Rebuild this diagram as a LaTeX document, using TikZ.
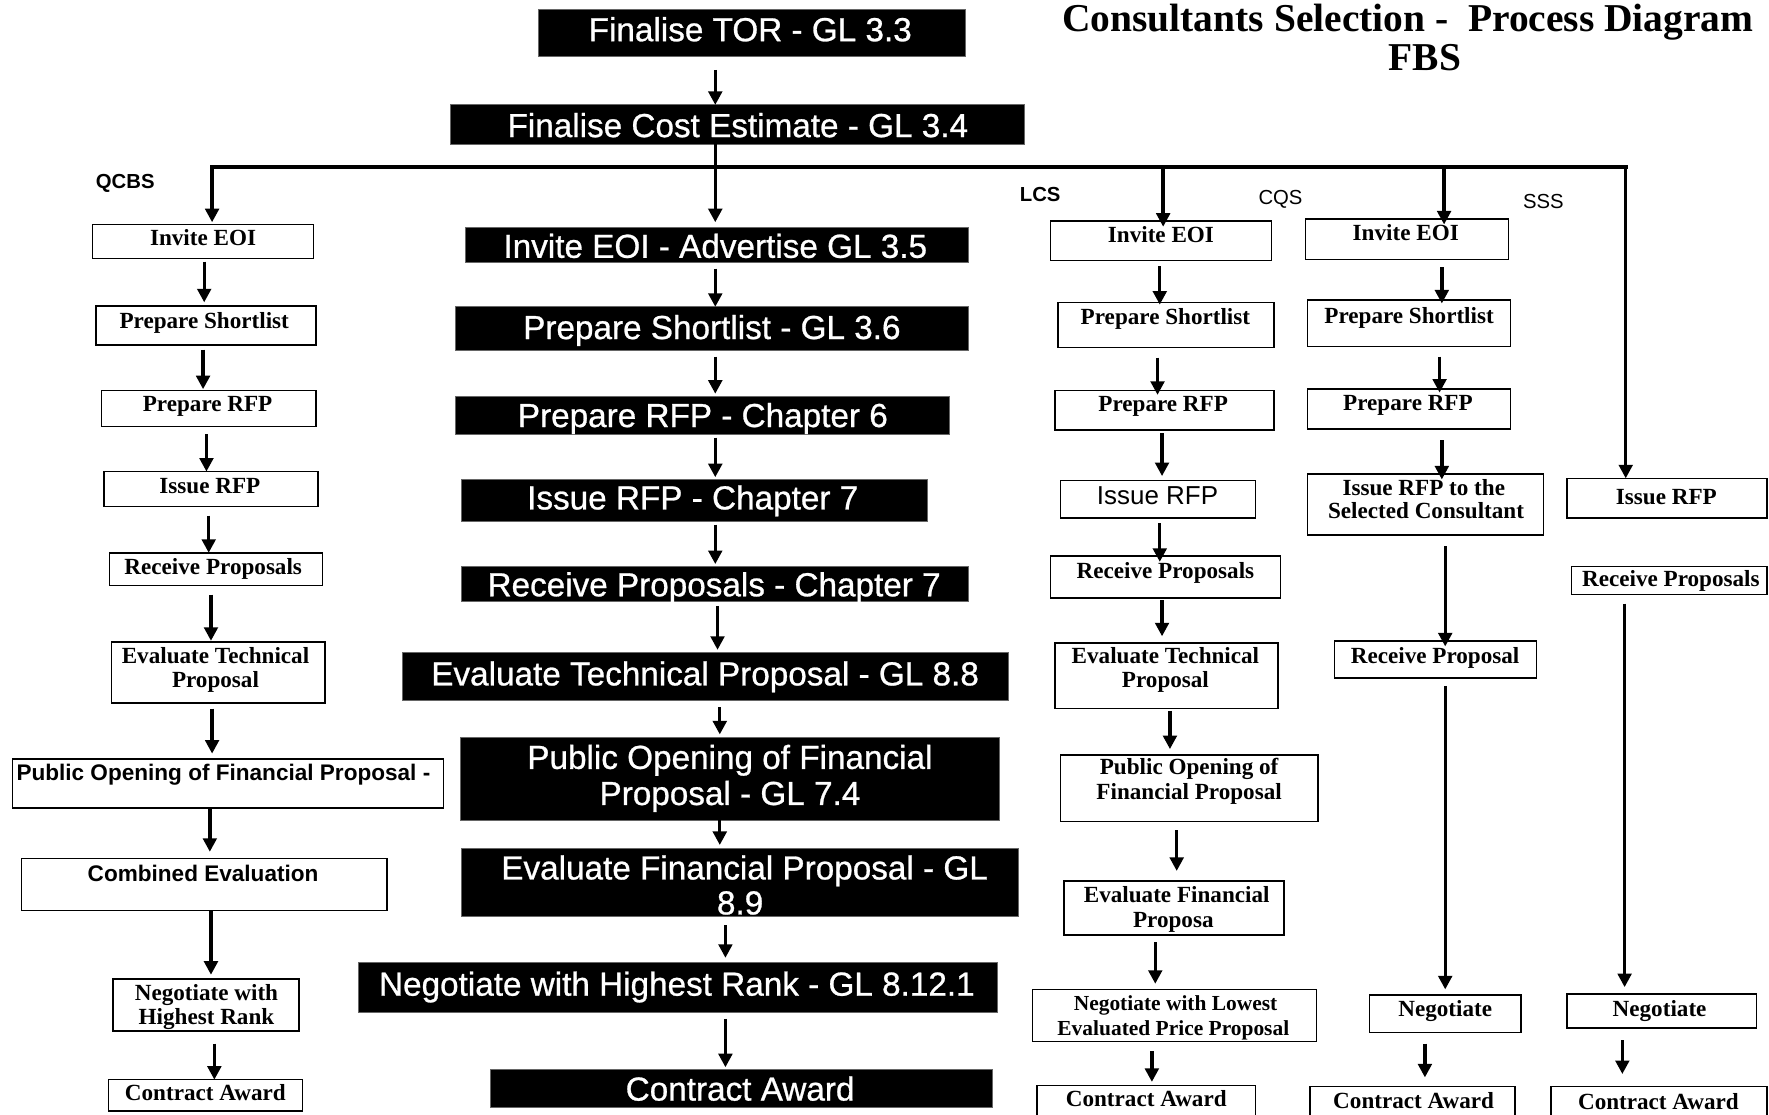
\documentclass[tikz,border=0pt]{standalone}
\usepackage{fontspec}
\setmainfont{Liberation Serif}
\setsansfont{Liberation Sans}
\newfontfamily\censans[FakeBold=0.8]{Liberation Sans}
\usetikzlibrary{arrows.meta,calc}

\tikzset{
  blackbox/.style={draw=black!60, fill=black, line width=0.8pt, inner sep=0pt, outer sep=0pt},
  whitebox/.style={draw=black, fill=white, line width=1.4pt, inner sep=0pt, outer sep=0pt},
  cen/.style={font=\fontsize{29.5}{32}\selectfont\censans, text=white, inner sep=0pt, anchor=base, yshift=-10.5pt},
  ser/.style={font=\fontsize{20.5}{22}\selectfont\bfseries, inner sep=0pt, anchor=base, yshift=-6.8pt},
  sersm/.style={ser, font=\fontsize{19}{21}\selectfont\bfseries},
  sanb/.style={font=\fontsize{20}{22}\selectfont\sffamily\bfseries, inner sep=0pt, anchor=base, yshift=-7pt},
  sanr/.style={font=\fontsize{23}{25}\selectfont\sffamily, inner sep=0pt, anchor=base, yshift=-8.2pt},
  meth/.style={font=\fontsize{18}{20}\selectfont\sffamily\bfseries, inner sep=0pt, anchor=base, yshift=-6.4pt},
  methr/.style={font=\fontsize{18}{20}\selectfont\sffamily, inner sep=0pt, anchor=base, yshift=-6.4pt},
  ttl/.style={font=\fontsize{35}{38}\selectfont\bfseries, inner sep=0pt, anchor=base, yshift=-11.5pt},
  arr/.style={line width=3pt, -{Triangle[length=12pt,width=12pt]}},
  bar/.style={line width=3.5pt, line cap=rect},
}

% box: name, style, x1, y1, x2, y2
\newcommand\bx[6]{\node[#2, minimum width={#5-#3}, minimum height={#6-#4}] (#1) at ({(#3+#5)/2},{(#4+#6)/2}) {};}
% text: name, style, x, y, text
\newcommand\tx[5]{\node[#2] (#1) at (#3,#4) {#5};}
% vertical connector: from, to, x, gap below source, gap above target
\newcommand\flow[5]{\draw[arr] let \p1=(#1.south), \p2=(#2.north) in (#3pt,{\y1-(#4)*1pt}) -- (#3pt,{\y2+(#5)*1pt});}
% branch from the distribution bar: x, target, gap above target
\newcommand\drop[3]{\draw[arr] let \p1=(barL), \p2=(#2.north) in (#1pt,\y1) -- (#1pt,{\y2+(#3)*1pt});}

\begin{document}
\begin{tikzpicture}[x=1pt,y=-1pt]
\fill[white] (0,0) rectangle (1568,988);
\useasboundingbox (0,0) rectangle (1568,988);

% ---------- title ----------
\tx{title1}{ttl}{1248}{16}{Consultants Selection - \ Process Diagram}
\tx{title2}{ttl}{1263}{51}{FBS}

% ---------- main (FBS) column ----------
\bx{tor}{blackbox}{477}{8}{856}{50}
\bx{cost}{blackbox}{399}{93}{908}{128}
\bx{cEOI}{blackbox}{413}{202}{858}{233}
\bx{cSL}{blackbox}{404}{272}{858}{311}
\bx{cRFP}{blackbox}{404}{351}{842}{385}
\bx{cIss}{blackbox}{409}{425}{822}{462}
\bx{cRec}{blackbox}{409}{502}{858}{533}
\bx{cTech}{blackbox}{357}{578}{894}{621}
\bx{cOpen}{blackbox}{408}{654}{886}{727}
\bx{cFin}{blackbox}{409}{752}{903}{812}
\bx{cNeg}{blackbox}{318}{853}{884}{897}
\bx{cAw}{blackbox}{435}{948}{880}{982}

\tx{tor-t}{cen}{665}{26}{Finalise TOR - GL 3.3}
\tx{cost-t}{cen}{654}{111}{Finalise Cost Estimate - GL 3.4}
\tx{cEOI-t}{cen}{634}{218}{Invite EOI - Advertise GL 3.5}
\tx{cSL-t}{cen}{631}{290}{Prepare Shortlist - GL 3.6}
\tx{cRFP-t}{cen}{623}{368}{Prepare RFP - Chapter 6}
\tx{cIss-t}{cen}{614}{441}{Issue RFP - Chapter 7}
\tx{cRec-t}{cen}{633}{518}{Receive Proposals - Chapter 7}
\tx{cTech-t}{cen}{625}{597}{Evaluate Technical Proposal - GL 8.8}
\tx{cOpen-a}{cen}{647}{671}{Public Opening of Financial}
\tx{cOpen-b}{cen}{647}{703}{Proposal - GL 7.4}
\tx{cFin-a}{cen}{660}{769}{Evaluate Financial Proposal - GL}
\tx{cFin-b}{cen}{656}{800}{8.9}
\tx{cNeg-t}{cen}{600}{872}{Negotiate with Highest Rank - GL 8.12.1}
\tx{cAw-t}{cen}{656}{965}{Contract Award}

% ---------- distribution bar ----------
\coordinate (barL) at (188,148);
\coordinate (barR) at (1441,148);
\draw[bar] (barL) -- (barR);

% ---------- QCBS ----------
\tx{qcbs}{meth}{111}{161}{QCBS}
\bx{qEOI}{whitebox}{82}{199}{278}{229}
\bx{qSL}{whitebox}{85}{271}{280}{306}
\bx{qRFP}{whitebox}{90}{346}{280}{378}
\bx{qIss}{whitebox}{92}{418}{282}{449}
\bx{qRec}{whitebox}{97}{490}{286}{519}
\bx{qTech}{whitebox}{99}{569}{288}{623}
\bx{qOpen}{whitebox}{11}{673}{393}{716}
\bx{qComb}{whitebox}{19}{761}{343}{807}
\bx{qNeg}{whitebox}{100}{868}{265}{914}
\bx{qAw}{whitebox}{96}{957}{268}{985}

\tx{qEOI-t}{ser}{180}{211}{Invite EOI}
\tx{qSL-t}{ser}{181}{284}{Prepare Shortlist}
\tx{qRFP-t}{ser}{184}{358}{Prepare RFP}
\tx{qIss-t}{ser}{186}{431}{Issue RFP}
\tx{qRec-t}{ser}{189}{502}{Receive Proposals}
\tx{qTech-a}{ser}{191}{581}{Evaluate Technical}
\tx{qTech-b}{ser}{191}{603}{Proposal}
\tx{qOpen-t}{sanb}{198}{685}{Public Opening of Financial Proposal -}
\tx{qComb-t}{sanb}{180}{774}{Combined Evaluation}
\tx{qNeg-a}{ser}{183}{880}{Negotiate with}
\tx{qNeg-b}{ser}{183}{901}{Highest Rank}
\tx{qAw-t}{ser}{182}{969}{Contract Award}

% ---------- LCS ----------
\tx{lcs}{meth}{922}{172}{LCS}
\bx{lEOI}{whitebox}{931}{196}{1127}{231}
\bx{lSL}{whitebox}{938}{268}{1129}{308}
\bx{lRFP}{whitebox}{935}{346}{1129}{381}
\bx{lIss}{whitebox}{940}{426}{1113}{459}
\bx{lRec}{whitebox}{931}{493}{1135}{530}
\bx{lTech}{whitebox}{935}{570}{1133}{628}
\bx{lOpen}{whitebox}{940}{669}{1168}{728}
\bx{lFin}{whitebox}{943}{781}{1138}{829}
\bx{lNeg}{whitebox}{915}{877}{1167}{923}
\bx{lAw}{whitebox}{919}{962}{1113}{995}

\tx{lEOI-t}{ser}{1029}{208}{Invite EOI}
\tx{lSL-t}{ser}{1033}{281}{Prepare Shortlist}
\tx{lRFP-t}{ser}{1031}{358}{Prepare RFP}
\tx{lIss-t}{sanr}{1026}{439}{Issue RFP}
\tx{lRec-t}{ser}{1033}{506}{Receive Proposals}
\tx{lTech-a}{ser}{1033}{581}{Evaluate Technical}
\tx{lTech-b}{ser}{1033}{603}{Proposal}
\tx{lOpen-a}{ser}{1054}{680}{Public Opening of}
\tx{lOpen-b}{ser}{1054}{702}{Financial Proposal}
\tx{lFin-a}{ser}{1043}{793}{Evaluate Financial}
\tx{lFin-b}{ser}{1040}{815}{Proposa}
\tx{lNeg-a}{sersm}{1042}{889}{Negotiate with Lowest}
\tx{lNeg-b}{sersm}{1040}{911}{Evaluated Price Proposal}
\tx{lAw-t}{ser}{1016}{974}{Contract Award}

% ---------- CQS ----------
\tx{cqs}{methr}{1135}{175}{CQS}
\bx{kEOI}{whitebox}{1157}{194}{1337}{230}
\bx{kSL}{whitebox}{1159}{266}{1339}{307}
\bx{kRFP}{whitebox}{1159}{345}{1339}{380}
\bx{kIss}{whitebox}{1159}{420}{1368}{474}
\bx{kRec}{whitebox}{1183}{568}{1362}{601}
\bx{kNeg}{whitebox}{1214}{882}{1348}{915}
\bx{kAw}{whitebox}{1161}{963}{1343}{995}

\tx{kEOI-t}{ser}{1246}{206}{Invite EOI}
\tx{kSL-t}{ser}{1249}{280}{Prepare Shortlist}
\tx{kRFP-t}{ser}{1248}{357}{Prepare RFP}
\tx{kIss-a}{ser}{1262}{432}{Issue RFP to the}
\tx{kIss-b}{ser}{1264}{453}{Selected Consultant}
\tx{kRec-t}{ser}{1272}{581}{Receive Proposal}
\tx{kNeg-t}{ser}{1281}{894}{Negotiate}
\tx{kAw-t}{ser}{1253}{976}{Contract Award}

% ---------- SSS ----------
\tx{sss}{methr}{1368}{178}{SSS}
\bx{sIss}{whitebox}{1389}{424}{1566}{459}
\bx{sRec}{whitebox}{1393}{502}{1566}{527}
\bx{sNeg}{whitebox}{1389}{881}{1557}{911}
\bx{sAw}{whitebox}{1375}{963}{1566}{995}

\tx{sIss-t}{ser}{1477}{440}{Issue RFP}
\tx{sRec-t}{ser}{1481}{513}{Receive Proposals}
\tx{sNeg-t}{ser}{1471}{894}{Negotiate}
\tx{sAw-t}{ser}{1470}{977}{Contract Award}

% ---------- connectors ----------
\flow{tor}{cost}{634}{12}{0}
\flow{cost}{cEOI}{634}{0}{5}
\flow{cEOI}{cSL}{634}{5}{0}
\flow{cSL}{cRFP}{634}{5}{2}
\flow{cRFP}{cIss}{634}{3}{2}
\flow{cIss}{cRec}{634}{3}{2}
\flow{cRec}{cTech}{636}{4}{2}
\flow{cTech}{cOpen}{638}{6}{3}
\flow{cOpen}{cFin}{638}{0}{3}
\flow{cFin}{cNeg}{643}{8}{4}
\flow{cNeg}{cAw}{643}{6}{2}

\drop{188}{qEOI}{2}
\drop{1031}{lEOI}{-5}
\drop{1280}{kEOI}{-5}
\drop{1441}{sIss}{0}

\flow{qEOI}{qSL}{181}{3}{3}
\flow{qSL}{qRFP}{180}{4}{1}
\flow{qRFP}{qIss}{183}{7}{0}
\flow{qIss}{qRec}{185}{8}{0}
\flow{qRec}{qTech}{187}{8}{1}
\flow{qTech}{qOpen}{188}{5}{5}
\flow{qOpen}{qComb}{186}{0}{6}
\flow{qComb}{qNeg}{187}{0}{4}
\flow{qNeg}{qAw}{190}{11}{0}

\flow{lEOI}{lSL}{1028}{5}{-2}
\flow{lSL}{lRFP}{1026}{9}{-4}
\flow{lRFP}{lIss}{1030}{3}{4}
\flow{lIss}{lRec}{1028}{5}{-5}
\flow{lRec}{lTech}{1030}{2}{6}
\flow{lTech}{lOpen}{1037}{2}{5}
\flow{lOpen}{lFin}{1043}{8}{9}
\flow{lFin}{lNeg}{1024}{6}{5}
\flow{lNeg}{lAw}{1021}{9}{3}

\flow{kEOI}{kSL}{1278}{7}{-3}
\flow{kSL}{kRFP}{1276}{9}{-3}
\flow{kRFP}{kIss}{1278}{10}{-5}
\flow{kIss}{kRec}{1281}{10}{-5}
\flow{kRec}{kNeg}{1281}{7}{5}
\flow{kNeg}{kAw}{1263}{10}{8}

\flow{sRec}{sNeg}{1440}{8}{6}
\flow{sNeg}{sAw}{1438}{11}{11}
\end{tikzpicture}
\end{document}
